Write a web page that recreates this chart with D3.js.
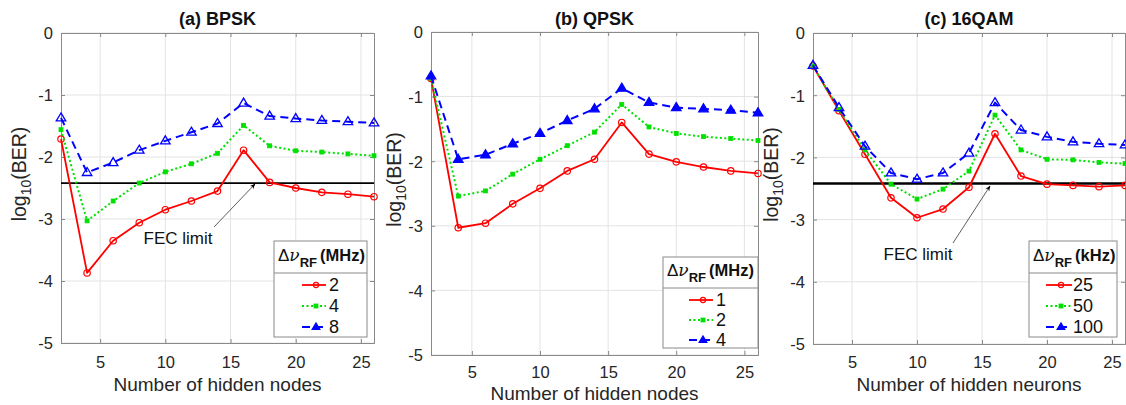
<!DOCTYPE html>
<html><head><meta charset="utf-8">
<script src="https://cdn.jsdelivr.net/npm/d3@7"></script>
<style>
body{margin:0;background:#fff;}
text{font-family:"Liberation Sans",Arial,sans-serif;}
</style></head>
<body><svg id="c" width="1126" height="405"></svg>
<script>
const hiddenNodes = [2,4,6,8,10,12,14,16,18,20,22,24,26];
const xTicks = [5,10,15,20,25];
const yTicks = [0,-1,-2,-3,-4,-5];
const fecLimit = -2.42;

// (a) BPSK
const bpskLabels = ["2","4","8"];
const bpsk2 = [-1.71,-3.87,-3.35,-3.06,-2.85,-2.71,-2.55,-1.89,-2.41,-2.50,-2.57,-2.60,-2.64];
const bpsk4 = [-1.56,-3.03,-2.71,-2.42,-2.24,-2.11,-1.94,-1.49,-1.82,-1.90,-1.92,-1.95,-1.98];
const bpsk8 = [-1.37,-2.25,-2.09,-1.89,-1.74,-1.60,-1.46,-1.13,-1.34,-1.38,-1.41,-1.43,-1.45];
// (b) QPSK
const qpskLabels = ["1","2","4"];
const qpsk1 = [-0.72,-3.03,-2.96,-2.66,-2.42,-2.15,-1.97,-1.40,-1.89,-2.01,-2.09,-2.15,-2.19];
const qpsk2 = [-0.72,-2.54,-2.46,-2.20,-1.97,-1.76,-1.55,-1.12,-1.47,-1.57,-1.62,-1.65,-1.68];
const qpsk4 = [-0.68,-1.97,-1.90,-1.73,-1.57,-1.37,-1.19,-0.87,-1.09,-1.17,-1.19,-1.21,-1.25];
// (c) 16QAM
const qamLabels = ["25","50","100"];
const qam25 = [-0.53,-1.25,-1.95,-2.65,-2.97,-2.83,-2.48,-1.62,-2.30,-2.43,-2.45,-2.47,-2.45];
const qam50 = [-0.53,-1.23,-1.88,-2.43,-2.67,-2.51,-2.22,-1.32,-1.88,-2.03,-2.04,-2.08,-2.10];
const qam100 = [-0.52,-1.20,-1.82,-2.25,-2.35,-2.25,-1.93,-1.12,-1.56,-1.67,-1.75,-1.78,-1.80];

const styles = [
  {color:"#ff0000", dash:null, marker:"circle", width:1.8},
  {color:"#00e000", dash:"2,2.5", marker:"square", width:2},
  {color:"#0000ff", dash:"8,5", marker:"triangle", width:2}
];

const panels = [
  {title:"(a) BPSK", xlabel:"Number of hidden nodes", unit:"(MHz)", labels:bpskLabels, series:[bpsk2,bpsk4,bpsk8],
   box:{l:61,r:374,t:33,b:343}, fec:true, fecW:1.8,
   ann:{tx:178,ty:244,x1:214,y1:227,x2:255,y2:184},
   leg:{l:274,r:367,t:241,sep:273,b:337,rows:[285,306,327],sx1:302,sx2:326,lx:329,tx:278},
   xtY:368, xlY:391, ylX:26, filled:false},
  {title:"(b) QPSK", xlabel:"Number of hidden nodes", unit:"(MHz)", labels:qpskLabels, series:[qpsk1,qpsk2,qpsk4],
   box:{l:431,r:758,t:32,b:355}, fec:false,
   leg:{l:663,r:758,t:257,sep:288,b:348,rows:[300,320,340],sx1:689,sx2:713,lx:716,tx:667},
   xtY:378, xlY:400, ylX:401, filled:true},
  {title:"(c) 16QAM", xlabel:"Number of hidden neurons", unit:"(kHz)", labels:qamLabels, series:[qam25,qam50,qam100],
   box:{l:813,r:1125,t:33,b:344}, fec:true, fecW:2.5,
   ann:{tx:918,ty:260,x1:953,y1:243,x2:990,y2:186},
   leg:{l:1029,r:1117,t:241,sep:273,b:337,rows:[285,306,327],sx1:1046,sx2:1072,lx:1073,tx:1033},
   xtY:368, xlY:391, ylX:778, filled:false}
];

const svg = d3.select("#c");
const defs = svg.append("defs");
defs.append("marker").attr("id","arr").attr("viewBox","0 0 10 10").attr("refX",9).attr("refY",5)
  .attr("markerWidth",7).attr("markerHeight",7).attr("orient","auto-start-reverse")
  .append("path").attr("d","M0,1 L10,5 L0,9 L3,5 Z").attr("fill","#000");

function drawMarker(g, type, x, y, color, filled, scale){
  const k = scale||1;
  if(type==="circle"){
    g.append("circle").attr("cx",x).attr("cy",y).attr("r",3.2*k).attr("fill","none").attr("stroke",color).attr("stroke-width",1.2);
  } else if(type==="square"){
    g.append("rect").attr("x",x-2).attr("y",y-2).attr("width",4).attr("height",4).attr("fill",color).attr("stroke",color).attr("stroke-width",0.8);
  } else {
    const s=5*k;
    g.append("path").attr("d",`M${x},${y-s} L${x+s*0.95},${y+s*0.6} L${x-s*0.95},${y+s*0.6} Z`)
      .attr("fill",filled?color:"none").attr("stroke",color).attr("stroke-width",1.3);
  }
}

panels.forEach(p=>{
  const B=p.box;
  const x=d3.scaleLinear().domain([2,26]).range([B.l,B.r]);
  const y=d3.scaleLinear().domain([-5,0]).range([B.b,B.t]);
  const g=svg.append("g");
  g.selectAll(".gx").data(xTicks).enter().append("line")
    .attr("x1",d=>x(d)).attr("x2",d=>x(d)).attr("y1",B.t).attr("y2",B.b).attr("stroke","#e3e3e3").attr("stroke-width",1);
  g.selectAll(".gy").data(yTicks).enter().append("line")
    .attr("y1",d=>y(d)).attr("y2",d=>y(d)).attr("x1",B.l).attr("x2",B.r).attr("stroke","#e3e3e3").attr("stroke-width",1);
  const xa=g.append("g").attr("transform",`translate(0,${B.b})`).call(d3.axisBottom(x).tickValues(xTicks).tickSize(-4).tickPadding(0).tickFormat(d3.format("d")));
  const xa2=g.append("g").attr("transform",`translate(0,${B.t})`).call(d3.axisTop(x).tickValues(xTicks).tickSize(-4).tickFormat(""));
  const ya=g.append("g").attr("transform",`translate(${B.l},0)`).call(d3.axisLeft(y).tickValues(yTicks).tickSize(-4).tickPadding(0).tickFormat(d3.format("d")));
  const ya2=g.append("g").attr("transform",`translate(${B.r},0)`).call(d3.axisRight(y).tickValues(yTicks).tickSize(-4).tickFormat(""));
  [xa,xa2,ya,ya2].forEach(a=>{a.select(".domain").attr("stroke","#8a8a8a").attr("stroke-width",1);a.selectAll(".tick line").attr("stroke","#8a8a8a");});
  xa.selectAll(".tick text").attr("dy",null)
    .attr("y",p.xtY-B.b).attr("font-size",16.5).attr("fill","#262626").attr("font-family","Liberation Sans, Arial, sans-serif");
  ya.selectAll(".tick text").attr("x",-8).attr("dy","0.36em").attr("font-size",16.5).attr("fill","#262626").attr("font-family","Liberation Sans, Arial, sans-serif")
    .text(d=>d===0?"0":"-"+Math.abs(d));
  svg.append("text").attr("x",(B.l+B.r)/2).attr("y",25).attr("text-anchor","middle").attr("font-size",18).attr("font-weight","bold").attr("fill","#111").text(p.title);
  svg.append("text").attr("x",(B.l+B.r)/2).attr("y",p.xlY).attr("text-anchor","middle").attr("font-size",19).attr("fill","#262626").text(p.xlabel);
  const yl=svg.append("text").attr("transform",`translate(${p.ylX},${(B.t+B.b)/2-14}) rotate(-90)`).attr("text-anchor","middle").attr("font-size",19.5).attr("fill","#262626");
  yl.append("tspan").text("log");
  yl.append("tspan").attr("font-size",14).attr("dy",5).text("10");
  yl.append("tspan").attr("dy",-5).text("(BER)");
  if(p.fec){
    g.append("line").attr("x1",B.l).attr("x2",B.r).attr("y1",y(fecLimit)).attr("y2",y(fecLimit)).attr("stroke","#000").attr("stroke-width",p.fecW);
    const a=p.ann;
    g.append("line").attr("x1",a.x1).attr("y1",a.y1).attr("x2",a.x2).attr("y2",a.y2).attr("stroke","#333").attr("stroke-width",0.8).attr("marker-end","url(#arr)");
    g.append("text").attr("x",a.tx).attr("y",a.ty).attr("text-anchor","middle").attr("font-size",17).attr("fill","#111").text("FEC limit");
  }
  p.series.forEach((vals,i)=>{
    const st=styles[i];
    const line=d3.line().x((d,j)=>x(hiddenNodes[j])).y(d=>y(d));
    g.append("path").datum(vals).attr("d",line).attr("fill","none").attr("stroke",st.color).attr("stroke-width",st.width)
      .attr("stroke-dasharray",st.dash).attr("stroke-linejoin","round");
    vals.forEach((v,j)=>drawMarker(g,st.marker,x(hiddenNodes[j]),y(v),st.color,p.filled));
  });
  const L=p.leg;
  const lg=svg.append("g");
  lg.append("rect").attr("x",L.l).attr("y",L.t).attr("width",L.r-L.l).attr("height",L.b-L.t).attr("fill","#fff").attr("stroke","#8a8a8a").attr("stroke-width",1);
  lg.append("line").attr("x1",L.l).attr("x2",L.r).attr("y1",L.sep).attr("y2",L.sep).attr("stroke","#8a8a8a").attr("stroke-width",1);
  const tt=lg.append("text").attr("x",L.tx).attr("y",L.sep-12).attr("font-size",17).attr("fill","#111");
  tt.append("tspan").text("Δ");
  tt.append("tspan").attr("font-family","DejaVu Serif, Liberation Serif, serif").attr("font-style","italic").attr("font-size",17).text("ν");
  tt.append("tspan").attr("font-weight","bold").attr("font-size",13).attr("dy",6).text("RF");
  tt.append("tspan").attr("font-weight","bold").attr("font-size",16.5).attr("dy",-6).attr("dx",3).text(p.unit);
  p.labels.forEach((lab,i)=>{
    const st=styles[i], yy=L.rows[i];
    lg.append("line").attr("x1",L.sx1).attr("x2",L.sx2).attr("y1",yy).attr("y2",yy).attr("stroke",st.color).attr("stroke-width",st.width).attr("stroke-dasharray",st.dash);
    drawMarker(lg,st.marker,(L.sx1+L.sx2)/2+2,yy,st.color,true,0.8);
    lg.append("text").attr("x",L.lx).attr("y",yy).attr("dy","0.36em").attr("font-size",18).attr("fill","#111").text(lab);
  });
});
</script></body></html>
